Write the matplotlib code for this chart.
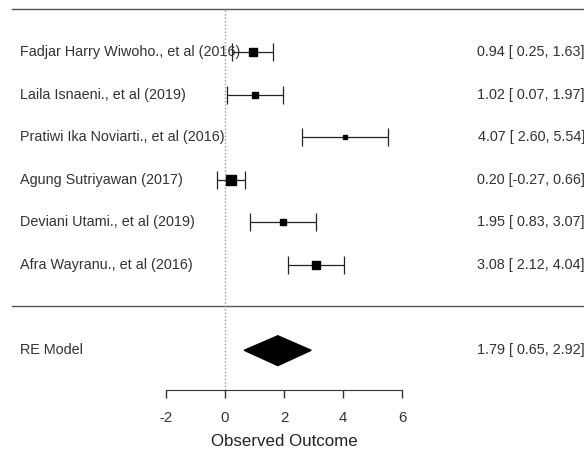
import matplotlib
matplotlib.use("Agg")
import matplotlib.pyplot as plt
from matplotlib.patches import Polygon

plt.rcParams['font.family'] = ['Liberation Sans', 'DejaVu Sans']
plt.rcParams['axes.unicode_minus'] = False

studies = ["Fadjar Harry Wiwoho., et al (2016)",
           "Laila Isnaeni., et al (2019)",
           "Pratiwi Ika Noviarti., et al (2016)",
           "Agung Sutriyawan (2017)",
           "Deviani Utami., et al (2019)",
           "Afra Wayranu., et al (2016)"]
est = [0.94, 1.02, 4.07, 0.20, 1.95, 3.08]
lower = [0.25, 0.07, 2.60, -0.27, 0.83, 2.12]
upper = [1.63, 1.97, 5.54, 0.66, 3.07, 4.04]
# square sizes (study weights)
box_size = [5.2, 4.4, 2.2, 6.8, 3.8, 5.4]

re_est, re_lower, re_upper = 1.79, 0.65, 2.92
xticks = [-2, 0, 2, 4, 6]

ink = "#222222"
txt = "#333333"
fs = 10.4

fig = plt.figure(figsize=(5.84, 4.5), dpi=100)
ax = fig.add_axes([0, 0, 1, 1])
ax.set_xlim(-7.63, 12.17)
ax.set_ylim(-3.34, 7.22)

k = len(studies)
rows = list(range(k, 0, -1))

# frame lines
ax.plot([-7.22, 12.17], [k + 1, k + 1], color="#555555", lw=1.0)
ax.plot([-7.22, 12.17], [0.05, 0.05], color="#555555", lw=1.0)
ax.plot([0, 0], [-1.94, k + 1], color="#999999", lw=1.0, ls=(0, (1, 1.5)))

for r, name, e, lo, hi, s in zip(rows, studies, est, lower, upper, box_size):
    ax.errorbar(e, r, xerr=[[e - lo], [hi - e]], fmt="none", ecolor=ink,
                elinewidth=0.9, capsize=6.8, capthick=0.9)
    ax.plot(e, r, marker="s", ms=s, color="black", mec="black")
    ax.text(-6.95, r, name, ha="left", va="center", fontsize=fs, color=txt)
    ax.text(12.2, r, f"{e:.2f} [{lo:5.2f}, {hi:.2f}]", ha="right",
            va="center", fontsize=fs, color=txt)

# summary diamond
ax.add_patch(Polygon([[re_lower, -1], [re_est, -0.66], [re_upper, -1],
                      [re_est, -1.36]], closed=True, color="black"))
ax.text(-6.95, -1, "RE Model", ha="left", va="center", fontsize=fs, color=txt)
ax.text(12.2, -1, f"{re_est:.2f} [{re_lower:5.2f}, {re_upper:.2f}]",
        ha="right", va="center", fontsize=fs, color=txt)

# x axis
for side in ["left", "right", "top"]:
    ax.spines[side].set_visible(False)
ax.spines["bottom"].set_position(("data", -1.94))
ax.spines["bottom"].set_bounds(-2, 6)
ax.spines["bottom"].set_color("#333333")
ax.set_xticks(xticks)
ax.set_yticks([])
ax.tick_params(axis="x", direction="out", length=6, width=1,
               colors="#333333", labelsize=10.8, pad=9)
ax.text(2, -3.13, "Observed Outcome", ha="center", va="center",
        fontsize=12.2, color="#222222")

fig.savefig("out.png", dpi=100)
